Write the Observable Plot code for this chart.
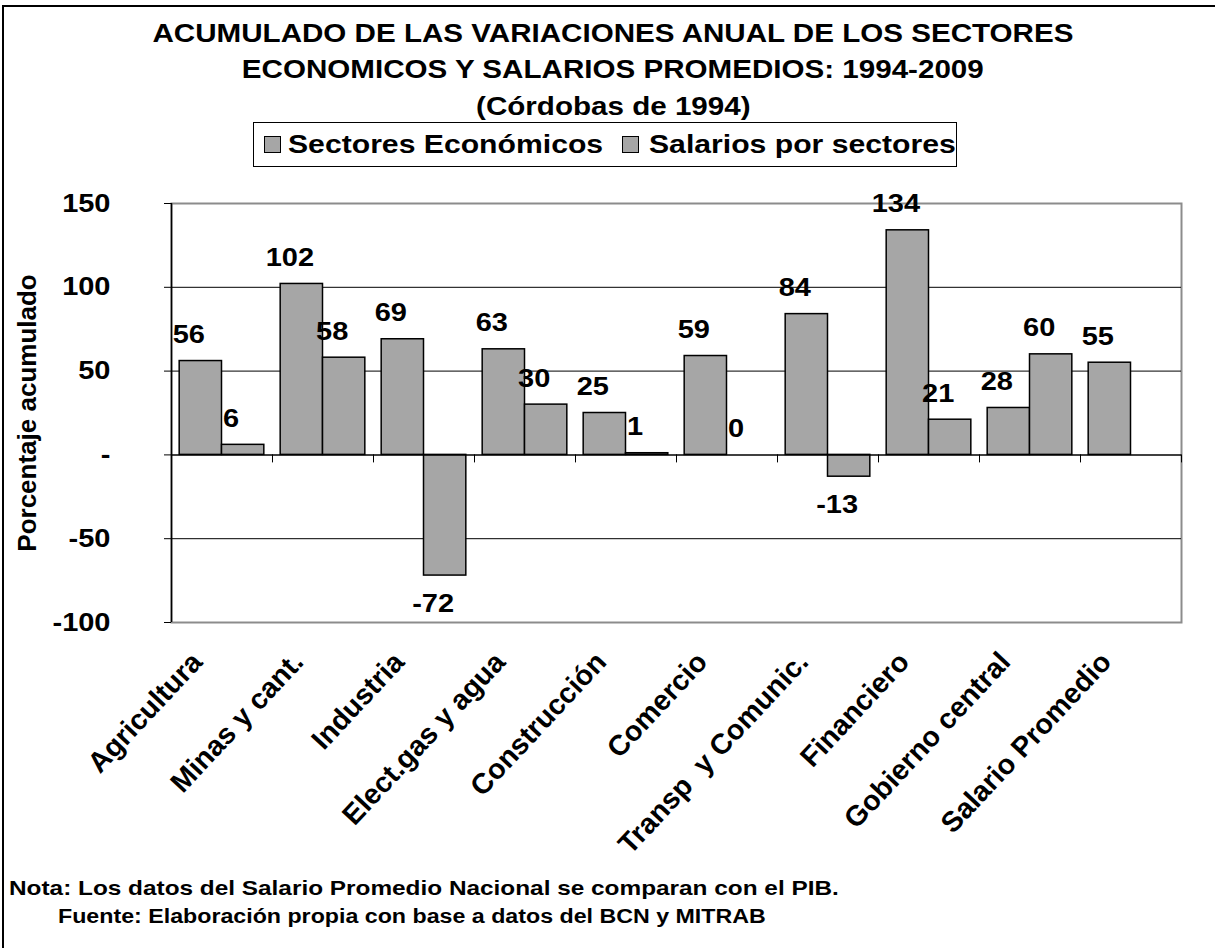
<!DOCTYPE html>
<html>
<head>
<meta charset="utf-8">
<script src="https://cdn.jsdelivr.net/npm/d3@7"></script>
<script src="https://cdn.jsdelivr.net/npm/@observablehq/plot@0.6"></script>
<style>
  html, body { margin: 0; padding: 0; background: #fff; overflow: hidden; }
  body { width: 1215px; height: 948px; position: relative; font-family: "Liberation Sans", Arial, sans-serif; font-weight: bold; color: #000; }
  #borderLeft { position: absolute; left: 2px; top: 5px; width: 2px; height: 943px; background: #000; }
  #borderTop { position: absolute; left: 2px; top: 5px; width: 1213px; height: 2px; background: #000; }
  #title { position: absolute; left: 0; top: 14.6px; width: 1226px; text-align: center; font-size: 25.5px; line-height: 36.5px; }
  #title span { display: inline-block; transform: scaleX(1.16); white-space: nowrap; }
  #legend { position: absolute; left: 253px; top: 122px; width: 702px; height: 43px; border: 1px solid #000; background: #fff; }
  .sw { position: absolute; top: 13px; width: 15px; height: 15px; background: #a6a6a6; border: 1px solid #000; }
  .lt { position: absolute; top: 8px; font-size: 26px; line-height: 26px; white-space: nowrap; transform: scaleX(1.16); transform-origin: left center; }
  #chart { position: absolute; left: 0; top: 185px; }
  #chart svg text { white-space: pre; }
  .note { position: absolute; white-space: nowrap; transform-origin: left center; }
</style>
</head>
<body>
<div id="borderLeft"></div>
<div id="borderTop"></div>
<div id="title"></div>
<div id="legend"></div>
<div id="chart"></div>
<div class="note" id="nota"></div>
<div class="note" id="fuente"></div>
<script>
// ---- data ----
const titleLines = [
  "ACUMULADO DE LAS VARIACIONES ANUAL DE LOS SECTORES",
  "ECONOMICOS Y SALARIOS PROMEDIOS: 1994-2009",
  "(Córdobas de 1994)"
];
const seriesNames = ["Sectores Económicos", "Salarios por sectores"];
const categories = ["Agricultura", "Minas y cant.", "Industria", "Elect.gas y agua", "Construcción",
  "Comercio", "Transp  y Comunic.", "Financiero", "Gobierno central", "Salario Promedio"];
const sectores = [56, 102, 69, 63, 25, 59, 84, 134, 28, 55];
const salarios = [6, 58, -72, 30, 1, 0, -13, 21, 60, null];
const yTicks = [-100, -50, 0, 50, 100, 150];
const yLabel = "Porcentaje acumulado";
const notaText = "Nota: Los datos del Salario Promedio Nacional se comparan con el PIB.";
const fuenteText = "Fuente: Elaboración propia con base a datos del BCN y MITRAB";

// ---- header ----
document.getElementById("title").innerHTML = titleLines.map(t => `<span>${t}</span>`).join("<br>");
const legend = document.getElementById("legend");
const legendPos = [[10, 34], [368, 395]];
seriesNames.forEach((name, i) => {
  const sw = document.createElement("div");
  sw.className = "sw"; sw.style.left = legendPos[i][0] + "px";
  legend.appendChild(sw);
  const t = document.createElement("div");
  t.className = "lt"; t.style.left = legendPos[i][1] + "px"; t.textContent = name;
  legend.appendChild(t);
});

// ---- chart ----
const W = 1215, H = 640, mL = 171, mR = 34, mT = 18, mB = 203;
const step = (W - mL - mR) / categories.length;
const barW = step * 0.419;
const outer = (step - 2 * barW) / 2;
const half = step / 2 - outer - barW / 2; // offset from band centre to bar centre

const secRows = categories.map((c, i) => ({category: c, value: sectores[i]})).filter(d => d.value != null);
const salRows = categories.map((c, i) => ({category: c, value: salarios[i]})).filter(d => d.value != null);

const barStyle = {fill: "#a6a6a6", stroke: "#000", strokeWidth: 1.5};
const lblStyle = {fontSize: 25, fill: "#000"};
function labels(rows, dx) {
  return [
    Plot.text(rows.filter(d => d.value >= 0), {x: "category", y: "value", text: d => String(d.value), dx, dy: -18, lineAnchor: "bottom", ...lblStyle}),
    Plot.text(rows.filter(d => d.value < 0), {x: "category", y: "value", text: d => String(d.value), dx, dy: 19, lineAnchor: "top", ...lblStyle})
  ];
}

const chart = Plot.plot({
  width: W, height: H,
  marginLeft: mL, marginRight: mR, marginTop: mT, marginBottom: mB,
  style: {fontFamily: "Liberation Sans, Arial, sans-serif", fontWeight: "bold", background: "transparent", color: "#000", overflow: "visible"},
  x: {type: "band", domain: categories, padding: 0},
  y: {domain: [yTicks[0], yTicks[yTicks.length - 1]]},
  marks: [
    Plot.frame({stroke: "#8c8c8c", strokeWidth: 2}),
    Plot.ruleY(yTicks.slice(1, -1).filter(v => v !== 0), {stroke: "#000", strokeWidth: 1}),
    Plot.barY(secRows, {x: "category", y: "value", insetLeft: outer, insetRight: step - outer - barW, ...barStyle}),
    Plot.barY(salRows, {x: "category", y: "value", insetLeft: outer + barW, insetRight: outer, ...barStyle}),
    Plot.ruleY([0], {stroke: "#000", strokeWidth: 1.5}),
    Plot.ruleX(categories, {x: d => d, y1: 0, y2: 0, insetBottom: -8, dx: -step / 2, stroke: "#000", strokeWidth: 1}),
    Plot.ruleX([categories[categories.length - 1]], {x: d => d, y1: 0, y2: 0, insetBottom: -8, dx: step / 2, stroke: "#000", strokeWidth: 1}),
    Plot.ruleX([categories[0]], {x: d => d, dx: -step / 2, stroke: "#000", strokeWidth: 1.5}),
    ...labels(secRows, -half - 12),
    ...labels(salRows, half - 12),
    Plot.axisY({ticks: yTicks, tickSize: 7, tickPadding: 54, tickFormat: d => d === 0 ? "-" : String(d), fontSize: 25, label: null, stroke: "#000"}),
    Plot.axisX({tickSize: 0, tickRotate: -47, tickPadding: 27, dx: -33, fontSize: 28.5, label: null, textAnchor: "end", lineAnchor: "top"}),
    Plot.text([yLabel], {frameAnchor: "left", textAnchor: "middle", lineAnchor: "middle", rotate: -90, dx: -144, fontSize: 26, fill: "#000"})
  ]
});
// horizontal texts in the reference are slightly stretched
chart.querySelectorAll("text").forEach(t => {
  const tr = t.getAttribute("transform") || "";
  if (tr.includes("rotate")) return;
  if (tr) t.setAttribute("transform", tr + " scale(1.16,1)");
  else {
    const x = +t.getAttribute("x") || 0, y = +t.getAttribute("y") || 0;
    t.setAttribute("transform", `translate(${x},${y}) scale(1.16,1)`);
    t.removeAttribute("x"); t.removeAttribute("y");
  }
});
document.getElementById("chart").appendChild(chart);

// ---- notes ----
const nota = document.getElementById("nota");
nota.textContent = notaText;
Object.assign(nota.style, {left: "9px", top: "877px", fontSize: "21px", lineHeight: "21px", transform: "scaleX(1.16)"});
const fuente = document.getElementById("fuente");
fuente.textContent = fuenteText;
Object.assign(fuente.style, {left: "58px", top: "906px", fontSize: "20px", lineHeight: "20px", transform: "scaleX(1.16)"});
</script>
</body>
</html>
